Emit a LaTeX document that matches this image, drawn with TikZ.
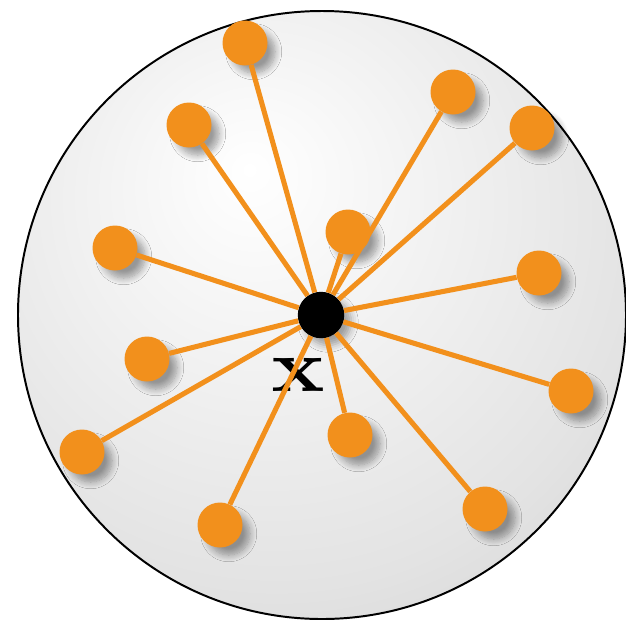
\documentclass[tikz,border=0pt]{standalone}
\usepackage{xcolor}
\usepackage{graphicx}
\usepackage{tikz}
\usetikzlibrary{shadows.blur}
\definecolor{Orange}{HTML}{F2901C}
\pgfdeclareradialshading{ballgray}{\pgfpoint{-6bp}{12bp}}{%
  color(0bp)=(white); color(30bp)=(gray!22); color(54bp)=(gray!48); color(80bp)=(gray!48)}
\tikzset{
  pt/.style={circle, fill=Orange, inner sep=0pt, minimum size=32,
             blur shadow={shadow xshift=6.5pt, shadow yshift=-6.5pt,
                          shadow scale=0.95, shadow blur radius=5pt,
                          shadow blur steps=10, shadow opacity=38}},
  ctr/.style={circle, fill=black, inner sep=0pt, minimum size=33,
              blur shadow={shadow xshift=5pt, shadow yshift=-5pt,
                           shadow blur radius=5pt, shadow opacity=35}},
  lnk/.style={Orange, line width=3.6pt}
}

\begin{document}
\begin{tikzpicture}[x=0.025cm, y=-0.025cm]
  \useasboundingbox (0,0) rectangle (626,621);
  \clip (0,0) rectangle (626,621);
  % ball
  \path[shading=ballgray] (322,315) circle (304);
  \draw[line width=1.4pt] (322,315) circle (304);

  \node[ctr] (X) at (321,315) {};
  \node[font=\bfseries, anchor=base, inner sep=0pt] (lbl) at (298,391) {\scalebox{6.3}[5.3]{x}};

  % samples
  \node[pt] (P1)  at (245,43)  {};
  \node[pt] (P2)  at (189,125) {};
  \node[pt] (P3)  at (453,92)  {};
  \node[pt] (P4)  at (532,128) {};
  \node[pt] (P5)  at (348,232) {};
  \node[pt] (P6)  at (115,248) {};
  \node[pt] (P7)  at (539,273) {};
  \node[pt] (P8)  at (147,359) {};
  \node[pt] (P9)  at (571,391) {};
  \node[pt] (P10) at (82,452)  {};
  \node[pt] (P11) at (350,435) {};
  \node[pt] (P12) at (485,509) {};
  \node[pt] (P13) at (220,525) {};

  \foreach \p in {P1,P2,P3,P4,P5,P6,P7,P8,P9,P10,P11,P12,P13}
    \draw[lnk] (X) -- (\p);
\end{tikzpicture}
\end{document}
